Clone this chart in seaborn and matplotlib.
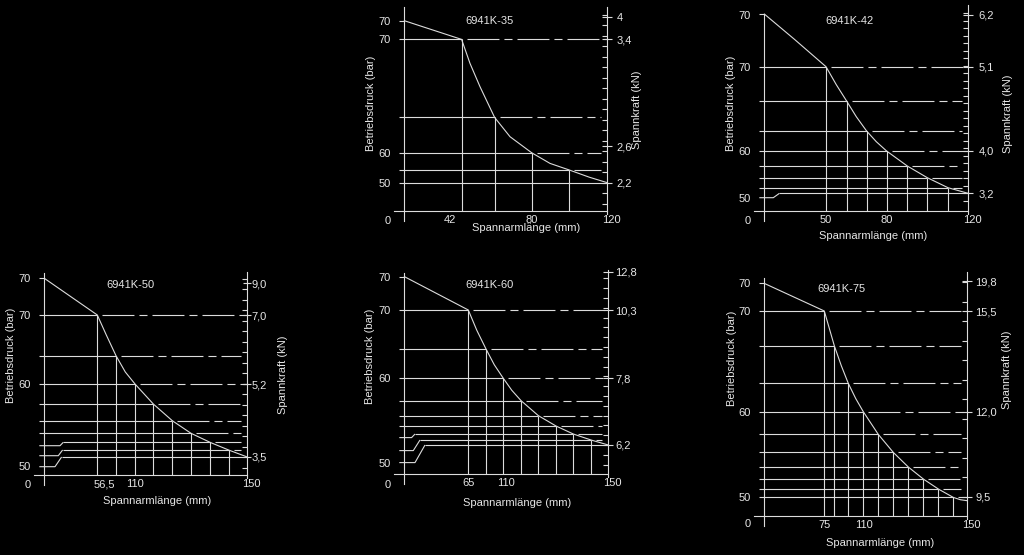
import numpy as np
import matplotlib
matplotlib.use("Agg")
import matplotlib.pyplot as plt
import seaborn as sns
from matplotlib.ticker import FixedLocator, FixedFormatter, NullFormatter

sns.set_theme(style="dark")
plt.rcParams["font.family"] = ["Liberation Sans", "DejaVu Sans"]
plt.rcParams["lines.scale_dashes"] = False

# ---------------- data (drawing units) ----------------
# 6941K-35
k35_curve_x = [0, 57.3, 65.7, 75.7, 90.3, 105.7, 127.3, 145.7, 165, 185, 203]
k35_curve_y = [190, 171.3, 147.3, 124, 93.3, 74, 58, 47.3, 40.7, 33.5, 28]
k35_level_y = [171.3, 93.3, 58, 40.7, 28]
k35_level_x = [57.3, 90.3, 127.3, 165, 203]
k35_left_lab = ["70", "70", "60", "50", "0"]
k35_left_pos = [190, 171.3, 58, 28, -9.3]
k35_right_lab = ["4", "3,4", "2,6", "2,2"]
k35_right_pos = [193.3, 171.3, 64.7, 28]
k35_x_lab = ["42", "80", "120"]
k35_x_pos = [45.7, 127.3, 207.3]
k35_step_left = []
k35_step_x0 = []
k35_step_x1 = []

# 6941K-42
k42_curve_x = [0, 30, 61.7, 72, 82.3, 92, 102.3, 112, 122.3, 143, 163, 183.7, 204]
k42_curve_y = [196.7, 171.5, 144, 126, 109.7, 94, 79.7, 69, 59.7, 44.7, 33, 23, 17.3]
k42_level_y = [144, 109.7, 79.7, 59.7, 44.7, 33, 23, 17.3]
k42_level_x = [61.7, 82.3, 102.3, 122.3, 143, 163, 183.7, 204]
k42_left_lab = ["70", "70", "60", "50", "0"]
k42_left_pos = [195.7, 144, 59.7, 13, -9.3]
k42_right_lab = ["6,2", "5,1", "4,0", "3,2"]
k42_right_pos = [195.7, 144, 59.7, 17.3]
k42_x_lab = ["50", "80", "120"]
k42_x_pos = [61.7, 122.3, 208]
k42_step_left = [13]
k42_step_x0 = [9]
k42_step_x1 = [15]

# 6941K-50
k50_curve_x = [0, 53, 62, 71.7, 81, 90.7, 109, 128, 146.7, 165.7, 184.3, 203]
k50_curve_y = [196.7, 160, 140, 119.3, 103, 91, 71, 54.3, 41.7, 32.7, 25, 18]
k50_level_y = [160, 119.3, 91, 71, 54.3, 41.7, 32.7, 25, 18]
k50_level_x = [53, 71.7, 90.7, 109, 128, 146.7, 165.7, 184.3, 203]
k50_left_lab = ["70", "70", "60", "50", "0"]
k50_left_pos = [196.7, 160, 91, 9.3, -9]
k50_right_lab = ["9,0", "7,0", "5,2", "3,5"]
k50_right_pos = [191.7, 160, 91, 18]
k50_x_lab = ["56,5", "110", "150"]
k50_x_pos = [59.7, 90.7, 207]
k50_step_left = [29.3, 19.3, 8.3]
k50_step_x0 = [15.7, 14, 10.7]
k50_step_x1 = [19, 18.3, 17.3]

# 6941K-60
k60_curve_x = [0, 64, 72.5, 81.7, 90, 99, 107.5, 116.7, 134, 151.7, 169, 186.7, 204]
k60_curve_y = [197.7, 164.3, 144, 125.3, 109.5, 96, 84, 73.7, 58.7, 48.3, 40.3, 34.3, 29.3]
k60_level_y = [164.3, 125.3, 96, 73.7, 58.7, 48.3, 40.3, 34.3, 29.3]
k60_level_x = [64, 81.7, 99, 116.7, 134, 151.7, 169, 186.7, 204]
k60_left_lab = ["70", "70", "60", "50", "0"]
k60_left_pos = [197.7, 164.3, 96, 11.7, -9.7]
k60_right_lab = ["12,8", "10,3", "7,8", "6,2"]
k60_right_pos = [202.7, 164.3, 96, 29.3]
k60_x_lab = ["65", "110", "150"]
k60_x_pos = [64, 101.7, 208]
k60_step_left = [36.7, 23.7, 11.7]
k60_step_x0 = [7.3, 9, 10.7]
k60_step_x1 = [10.7, 15.7, 20.7]

# 6941K-75
k75_curve_x = [0, 60, 70, 77, 84, 91.5, 99, 114, 129, 144, 159, 174, 189, 196, 203]
k75_curve_y = [232.3, 204.7, 170, 150, 132.3, 117, 104, 81.3, 63.3, 48.7, 36.7, 26.7, 18.3, 16, 15]
k75_level_y = [204.7, 170, 132.3, 104, 81.3, 63.3, 48.7, 36.7, 26.7, 18.3]
k75_level_x = [60, 70, 84, 99, 114, 129, 144, 159, 174, 189]
k75_left_lab = ["70", "70", "60", "50", "0"]
k75_left_pos = [232.3, 204.7, 104, 18.3, -7.7]
k75_right_lab = ["19,8", "15,5", "12,0", "9,5"]
k75_right_pos = [234.7, 204.7, 104, 19]
k75_x_lab = ["75", "110", "150"]
k75_x_pos = [60, 100, 207.3]
k75_step_left = []
k75_step_x0 = []
k75_step_x1 = []

# ---------------- layout (figure pixels) ----------------
W, H = 1024, 555
FG = "#dcdcdc"
TXT = "#e6e6e6"
LW = 0.8
FS = 8

panels = [
    dict(name="6941K-35", cx=k35_curve_x, cy=k35_curve_y, ly=k35_level_y, lx=k35_level_x,
         llab=k35_left_lab, lpos=k35_left_pos, rlab=k35_right_lab, rpos=k35_right_pos,
         xlab=k35_x_lab, xpos=k35_x_pos, sl=k35_step_left, s0=k35_step_x0, s1=k35_step_x1,
         ox=404.3, oy=210.7, right=203, top_l=204, top_r=204, minor=10.5, xt=[52.3], rgap=9,
         title=(85.7, 190), ylab=(371, 103), y2lab=(637, 110), xl=(525.7, 228.3)),
    dict(name="6941K-42", cx=k42_curve_x, cy=k42_curve_y, ly=k42_level_y, lx=k42_level_x,
         llab=k42_left_lab, lpos=k42_left_pos, rlab=k42_right_lab, rpos=k42_right_pos,
         xlab=k42_x_lab, xpos=k42_x_pos, sl=k42_step_left, s0=k42_step_x0, s1=k42_step_x1,
         ox=764.3, oy=210.7, right=204, top_l=197, top_r=205.7, minor=7.5, xt=[42.3], rgap=10,
         title=(85.7, 190), ylab=(730.7, 103.3), y2lab=(1008.3, 113.3), xl=(873.3, 236)),
    dict(name="6941K-50", cx=k50_curve_x, cy=k50_curve_y, ly=k50_level_y, lx=k50_level_x,
         llab=k50_left_lab, lpos=k50_left_pos, rlab=k50_right_lab, rpos=k50_right_pos,
         xlab=k50_x_lab, xpos=k50_x_pos, sl=k50_step_left, s0=k50_step_x0, s1=k50_step_x1,
         ox=44.3, oy=475, right=203, top_l=201.7, top_r=203.3, minor=10.5, xt=[34], rgap=4,
         title=(85.7, 190), ylab=(10.7, 355), y2lab=(283, 375), xl=(156.7, 500.7)),
    dict(name="6941K-60", cx=k60_curve_x, cy=k60_curve_y, ly=k60_level_y, lx=k60_level_x,
         llab=k60_left_lab, lpos=k60_left_pos, rlab=k60_right_lab, rpos=k60_right_pos,
         xlab=k60_x_lab, xpos=k60_x_pos, sl=k60_step_left, s0=k60_step_x0, s1=k60_step_x1,
         ox=404.3, oy=474.3, right=204, top_l=201, top_r=204.3, minor=9.8, xt=[46], rgap=7,
         title=(85.7, 189.3), ylab=(370, 356.7), y2lab=None, xl=(516.7, 503.3)),
    dict(name="6941K-75", cx=k75_curve_x, cy=k75_curve_y, ly=k75_level_y, lx=k75_level_x,
         llab=k75_left_lab, lpos=k75_left_pos, rlab=k75_right_lab, rpos=k75_right_pos,
         xlab=k75_x_lab, xpos=k75_x_pos, sl=k75_step_left, s0=k75_step_x0, s1=k75_step_x1,
         ox=764.3, oy=515.7, right=203, top_l=237.3, top_r=244, minor=19.5, xt=[41, 54], rgap=8,
         title=(77.3, 226.7), ylab=(731.7, 358.3), y2lab=(1007, 370), xl=(880, 543.3)),
]

fig = plt.figure(figsize=(W / 100, H / 100), dpi=100, facecolor="black")

DASH = (32.4, (23, 3.6, 5.8, 3.6))
PX = 0.72  # points per pixel


def ffrac(px, py):
    return px / W, 1 - py / H


for p in panels:
    ox, oy, right = p["ox"], p["oy"], p["right"]
    top = max(p["top_l"], p["top_r"]) + 2
    pad_l, pad_b, pad_r = 12, 12, 10
    ax = fig.add_axes([(ox - pad_l) / W, (H - (oy + pad_b)) / H,
                       (right + pad_l + pad_r) / W, (top + pad_b) / H])
    ax.set_facecolor("black")
    ax.grid(False)
    ax.set_xlim(-pad_l, right + pad_r)
    ax.set_ylim(-pad_b, top)

    # spines
    for s in ["top", "right"]:
        ax.spines[s].set_visible(False)
    ax.spines["left"].set_position(("data", 0))
    ax.spines["bottom"].set_position(("data", 0))
    ax.spines["left"].set_bounds(-10, p["top_l"])
    ax.spines["bottom"].set_bounds(-10, right)
    for s in ["left", "bottom"]:
        ax.spines[s].set_color(FG)
        ax.spines[s].set_linewidth(LW)

    # left ticks
    ax.yaxis.set_major_locator(FixedLocator(p["lpos"]))
    ax.yaxis.set_major_formatter(FixedFormatter(p["llab"]))
    ax.tick_params(axis="y", which="both", length=0, pad=9.5, labelcolor=TXT, labelsize=FS)
    # x ticks
    ax.xaxis.set_major_locator(FixedLocator(p["xpos"]))
    ax.xaxis.set_major_formatter(FixedFormatter(p["xlab"]))
    ax.xaxis.set_minor_locator(FixedLocator(p["xt"]))
    ax.xaxis.set_minor_formatter(NullFormatter())
    ax.tick_params(axis="x", which="major", length=0, pad=3.0, labelcolor=TXT, labelsize=FS)
    ax.tick_params(axis="x", which="minor", length=3, width=LW, direction="out", color=FG)

    # right axis
    ax2 = ax.twinx()
    ax2.set_ylim(-pad_b, top)
    ax2.grid(False)
    for s in ["left", "top", "bottom"]:
        ax2.spines[s].set_visible(False)
    ax2.spines["right"].set_position(("data", right))
    ax2.spines["right"].set_bounds(-3, p["top_r"])
    ax2.spines["right"].set_color(FG)
    ax2.spines["right"].set_linewidth(LW)
    ax2.yaxis.set_major_locator(FixedLocator(p["rpos"]))
    ax2.yaxis.set_major_formatter(FixedFormatter(p["rlab"]))
    base = p["rpos"][-1]
    mt = np.arange(base - 10 * p["minor"], p["top_r"], p["minor"])
    mt = mt[(mt > 3) & (mt < p["top_r"] - 2)]
    ax2.yaxis.set_minor_locator(FixedLocator(mt))
    ax2.yaxis.set_minor_formatter(NullFormatter())
    out_len = min(5, p["rgap"])
    ax2.tick_params(axis="y", which="major", direction="inout", length=2 * out_len * PX,
                    width=LW, color=FG, pad=max(p["rgap"] - out_len, 0) * PX,
                    labelcolor=TXT, labelsize=FS)
    ax2.tick_params(axis="y", which="minor", direction="in", length=3.6, width=LW, color=FG)

    kw = dict(color=FG, lw=LW, solid_capstyle="butt")
    # curve
    sns.lineplot(x=p["cx"], y=p["cy"], ax=ax, sort=False, color=FG, lw=LW, estimator=None)
    ax.plot([-5, 0], [p["cy"][0], p["cy"][0]], **kw)

    # levels
    nstep = len(p["sl"])
    nlev = len(p["ly"])
    for i, (h, xc) in enumerate(zip(p["ly"], p["lx"])):
        j = i - (nlev - nstep)
        start = -5
        if j >= 0:
            ax.plot([-5, p["s0"][j], p["s1"][j]], [p["sl"][j], p["sl"][j], h], **kw)
            start = p["s1"][j]
        ax.plot([start, xc], [h, h], **kw)
        labeled = any(abs(r - h) < 3 for r in p["rpos"])
        end = right if labeled else right - 6
        if end > xc + 1:
            ax.plot([xc, end], [h, h], color=FG, lw=LW, linestyle=DASH)
        if xc < right - 1:
            ax.plot([xc, xc], [0, h], **kw)

    # texts
    ax.text(p["title"][0], p["title"][1], p["name"], ha="center", va="center",
            color=TXT, fontsize=FS)
    fx, fy = ffrac(*p["ylab"])
    fig.text(fx, fy, "Betriebsdruck (bar)", rotation=90, ha="center", va="center",
             color=TXT, fontsize=FS)
    if p["y2lab"] is not None:
        fx, fy = ffrac(*p["y2lab"])
        fig.text(fx, fy, "Spannkraft (kN)", rotation=90, ha="center", va="center",
                 color=TXT, fontsize=FS)
    fx, fy = ffrac(*p["xl"])
    fig.text(fx, fy, "Spannarmlänge (mm)", ha="center", va="center", color=TXT, fontsize=FS)

fig.savefig("out.png", dpi=100, facecolor="black")
